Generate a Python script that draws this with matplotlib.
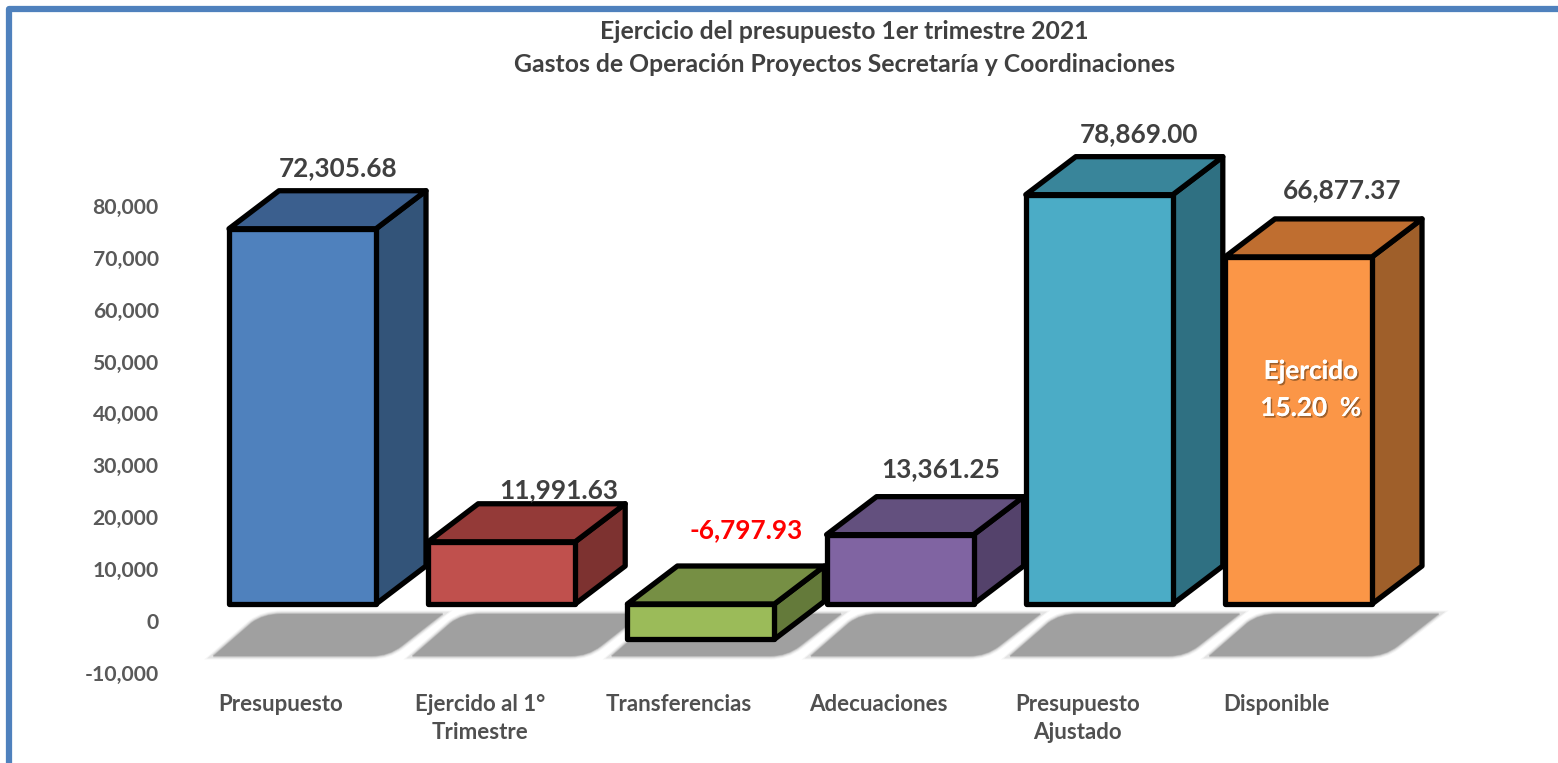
import matplotlib
matplotlib.use("Agg")
import matplotlib.pyplot as plt
import matplotlib.patheffects as pe
from matplotlib.patches import Polygon, PathPatch
from matplotlib.path import Path
from matplotlib.lines import Line2D

plt.rcParams['font.family'] = ['Lato', 'DejaVu Sans']
plt.rcParams['font.weight'] = 'bold'

# datos del grafico
categorias = ["Presupuesto", "Ejercido al 1°\nTrimestre", "Transferencias",
              "Adecuaciones", "Presupuesto\nAjustado", "Disponible"]
valores = [72305.68, 11991.63, -6797.93, 13361.25, 78869.00, 66877.37]
etiquetas = ["72,305.68", "11,991.63", "-6,797.93", "13,361.25", "78,869.00", "66,877.37"]
marcas_y = [-10000, 0, 10000, 20000, 30000, 40000, 50000, 60000, 70000, 80000]
nombres_y = ["-10,000", "0", "10,000", "20,000", "30,000", "40,000", "50,000", "60,000", "70,000", "80,000"]

# colores: frente, tapa, lado
frente = ["#4F81BD", "#C0504D", "#9BBB59", "#8064A2", "#4BACC6", "#FB9647"]
tapa = ["#3B5F8E", "#943A38", "#768F44", "#63507E", "#39859A", "#BF6E30"]
lado = ["#335479", "#7D3230", "#647A3A", "#54426B", "#2F7082", "#9F5F2A"]
# desplazamiento de cada etiqueta respecto a la tapa (pixeles)
offset_etq = [(36, 61), (57, 52), (45, 74), (41, 66), (40, 61), (44, 67)]

PX_CAT = 199.2        # pixeles entre categorias
PX_Y = 51.9 / 10000   # pixeles por unidad
W, H = 1558, 763


def dx(px):
    return px / PX_CAT


def dy(px):
    return px / PX_Y


fig = plt.figure(figsize=(W / 100, H / 100), dpi=100)
izq, der, arr, aba = 165, 1558, 12, 690
ax = fig.add_axes([izq / W, 1 - aba / H, (der - izq) / W, (aba - arr) / H])
centro0 = 302.5
ax.set_xlim((izq - centro0) / PX_CAT, (der - centro0) / PX_CAT)
ax.set_ylim(-(aba - 621) / PX_Y, (621 - arr) / PX_Y)
for s in ax.spines.values():
    s.set_visible(False)

ax.set_yticks(marcas_y)
ax.set_yticklabels(nombres_y, fontsize=15.2, color="#595959")
ax.tick_params(axis="y", length=0, pad=4.5)
ax.set_xticks([i - dx(22) for i in range(len(categorias))])
ax.set_xticklabels(categorias, fontsize=16, color="#505050", linespacing=1.43)
ax.tick_params(axis="x", length=0, pad=3)

media = dx(73.5)
base = dy(17)       # el frente esta mas arriba que el cero del eje
prof_x = dx(50)
prof_y = dy(38)
borde = dict(edgecolor="black", linewidth=3.8, joinstyle="round")

# sombras
for i in range(len(valores)):
    x0 = i + dx(-89)
    codes = [Path.MOVETO, Path.LINETO, Path.CURVE3, Path.CURVE3, Path.LINETO,
             Path.LINETO, Path.CURVE3, Path.CURVE3, Path.CLOSEPOLY]
    verts = [(x0, -dy(35)), (x0 + dx(38), -dy(2)), (x0 + dx(50), dy(7)), (x0 + dx(68), dy(7)),
             (x0 + dx(229), dy(7)), (x0 + dx(188), -dy(25)), (x0 + dx(175), -dy(35)),
             (x0 + dx(158), -dy(35)), (x0, -dy(35))]
    sombra = Path(verts, codes)
    # bordes difusos con varias pasadas
    for lw, a in [(5, 0.1), (3.5, 0.2), (2, 0.35), (0.8, 0.6), (0, 1)]:
        ax.add_patch(PathPatch(sombra, facecolor="#A0A0A0" if lw == 0 else "none",
                               edgecolor="#A0A0A0", linewidth=lw, alpha=a, zorder=1))

# barras
for i, v in enumerate(valores):
    z = 2 + i
    x1, x2 = i - media, i + media
    arriba = base + max(v, 0)
    abajo = base + min(v, 0)
    ax.add_patch(Polygon([(x2, abajo), (x2 + prof_x, abajo + prof_y), (x2 + prof_x, arriba + prof_y), (x2, arriba)],
                         facecolor=lado[i], zorder=z, **borde))
    ax.add_patch(Polygon([(x1, arriba), (x1 + prof_x, arriba + prof_y), (x2 + prof_x, arriba + prof_y), (x2, arriba)],
                         facecolor=tapa[i], zorder=z, **borde))
    ax.add_patch(Polygon([(x1, abajo), (x2, abajo), (x2, arriba), (x1, arriba)],
                         facecolor=frente[i], zorder=z, **borde))
    ax.annotate(etiquetas[i], xy=(i, arriba), xytext=(offset_etq[i][0] * 0.72, offset_etq[i][1] * 0.72),
                textcoords="offset points", ha="center", va="center", fontsize=18.8,
                color="#FF0000" if v < 0 else "#404040", zorder=20)

# texto dentro de la barra Disponible
sombra_txt = [pe.withSimplePatchShadow(offset=(1.2, -1.2), shadow_rgbFace="#7A4A20", alpha=0.7), pe.Normal()]
ax.text(5 + dx(12.5), base + dy(233), "Ejercido", ha="center", va="center", fontsize=18.8,
        color="white", zorder=20, path_effects=sombra_txt)
ax.text(5 + dx(12.5), base + dy(196), "15.20  %", ha="center", va="center", fontsize=18.8,
        color="white", zorder=20, path_effects=sombra_txt)

# titulo
fig.text(844 / W, 1 - 31.5 / H, "Ejercicio del presupuesto 1er trimestre 2021", ha="center", va="center",
         fontsize=17.8, color="#404040")
fig.text(844 / W, 1 - 64.5 / H, "Gastos de Operación Proyectos Secretaría y Coordinaciones", ha="center", va="center",
         fontsize=17.8, color="#404040")

# marco azul, solo se ve arriba y a la izquierda
fig.add_artist(Line2D([9 / W, 9 / W, 1], [0, 1 - 9 / H, 1 - 9 / H], color="#4F81BD", linewidth=4.5,
                      solid_joinstyle="round"))

fig.savefig("out.png", dpi=100)
